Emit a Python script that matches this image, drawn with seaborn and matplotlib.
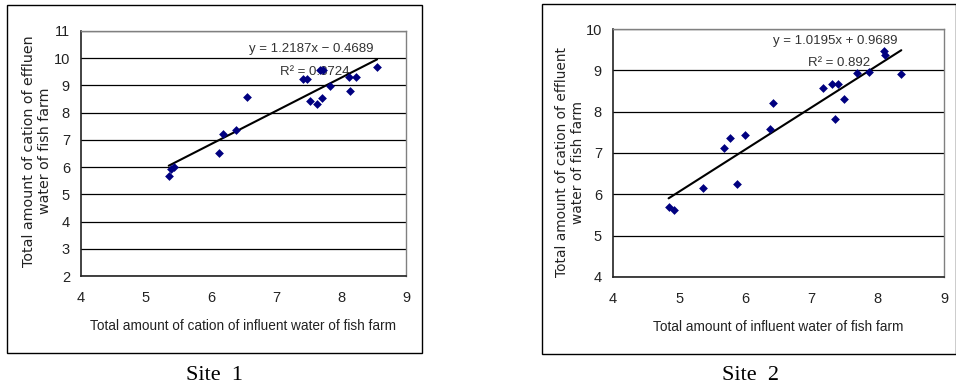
import numpy as np
import pandas as pd
import matplotlib
matplotlib.use("Agg")
import matplotlib.pyplot as plt
from matplotlib.patches import Rectangle
import seaborn as sns

# ---------------- data ----------------
site1_x = [5.35, 5.385, 5.43, 6.12, 6.18, 6.39, 6.555, 7.415, 7.48, 7.53, 7.63,
           7.68, 7.72, 7.71, 7.83, 8.12, 8.135, 8.23, 8.555]
site1_y = [5.68, 5.94, 5.99, 6.52, 7.21, 7.37, 8.59, 9.23, 9.23, 8.43, 8.33,
           9.58, 9.58, 8.54, 8.97, 9.31, 8.80, 9.31, 9.67]
site1_slope, site1_intercept, site1_r2 = 1.2187, -0.4689, "0.8724"

site2_x = [4.84, 4.92, 5.36, 5.67, 5.76, 5.87, 6.0, 6.37, 6.415, 7.175, 7.305,
           7.40, 7.355, 7.485, 7.69, 7.86, 8.095, 8.11, 8.355]
site2_y = [5.69, 5.63, 6.15, 7.13, 7.36, 6.26, 7.43, 7.59, 8.20, 8.57, 8.66,
           8.66, 7.82, 8.31, 8.93, 8.96, 9.46, 9.37, 8.92]
site2_slope, site2_intercept, site2_r2 = 1.0195, 0.9689, "0.892"

site1_xticks = [4, 5, 6, 7, 8, 9]
site1_yticks = [2, 3, 4, 5, 6, 7, 8, 9, 10, 11]
site2_xticks = [4, 5, 6, 7, 8, 9]
site2_yticks = [4, 5, 6, 7, 8, 9, 10]

site1_xlabel = "Total amount of cation of influent water of fish farm"
site1_ylabel = "Total amount of cation of effluen\nwater of fish farm"
site2_xlabel = "Total amount of influent water of fish farm"
site2_ylabel = "Total amount of cation of effluent\nwater of fish farm"
site1_eq = "y = 1.2187x \u2212 0.4689"
site2_eq = "y = 1.0195x + 0.9689"
captions = ["Site  1", "Site  2"]

# ---------------- style ----------------
sns.set_style("white")
NARROW = ["Liberation Sans Narrow", "Liberation Sans", "DejaVu Sans"]
plt.rcParams["font.family"] = NARROW

W, H = 956, 389
fig = plt.figure(figsize=(W / 100, H / 100), dpi=100)
fig.patch.set_facecolor("white")


def px_axes(x0, x1, ytop, ybot):
    return fig.add_axes([x0 / W, (H - ybot) / H, (x1 - x0) / W, (ybot - ytop) / H])


def frame(x0, x1, ytop, ybot):
    fig.patches.append(Rectangle((x0 / W, (H - ybot) / H), (x1 - x0) / W, (ybot - ytop) / H,
                                 transform=fig.transFigure, fill=False,
                                 edgecolor="black", linewidth=1.0))


def panel(ax, xs, ys, slope, intercept, xticks, yticks, xlabel, eq, r2, eqpos, r2pos):
    df = pd.DataFrame({"x": xs, "y": ys})
    ax.set_axisbelow(True)
    ax.set_xlim(xticks[0], xticks[-1])
    ax.set_ylim(yticks[0], yticks[-1])
    ax.set_xticks(xticks)
    ax.set_yticks(yticks)
    ax.yaxis.grid(True, color="black", linewidth=0.9)
    ax.xaxis.grid(False)
    xx = np.array([min(xs), max(xs)])
    ax.plot(xx, slope * xx + intercept, color="black", linewidth=1.5, zorder=3)
    sns.scatterplot(data=df, x="x", y="y", ax=ax, marker="D", s=20,
                    color="#000080", linewidth=0, zorder=4)
    for side in ["left", "bottom"]:
        ax.spines[side].set_color("#222222")
        ax.spines[side].set_linewidth(1.2)
    for side in ["top", "right"]:
        ax.spines[side].set_color("#808080")
        ax.spines[side].set_linewidth(1.0)
    ax.tick_params(axis="x", direction="in", length=5, width=1, color="#222222",
                   pad=11, labelsize=10.5, labelcolor="#222222")
    ax.tick_params(axis="y", direction="out", length=3, width=1, color="#222222",
                   pad=5, labelsize=10.5, labelcolor="#222222")
    ax.set_xlabel(xlabel, fontsize=9.8, color="#222222")
    ax.xaxis.set_label_coords(0.5, -0.175)
    ax.set_ylabel("")
    ax.text(eqpos[0], eqpos[1], eq, transform=ax.transData, fontsize=9.5,
            color="#333333", ha="center", va="center", zorder=2)
    ax.text(r2pos[0], r2pos[1], "R\u00b2 = " + r2, transform=ax.transData, fontsize=9.5,
            color="#333333", ha="left", va="center", zorder=2)


# left panel
frame(7, 422, 5, 353)
ax1 = px_axes(81, 406, 31, 276)
panel(ax1, site1_x, site1_y, site1_slope, site1_intercept, site1_xticks, site1_yticks,
      site1_xlabel, site1_eq, site1_r2, (7.55, 10.33), (7.06, 9.5))
fig.text(37 / W, 1 - 151 / H, site1_ylabel, rotation=90, ha="center", va="center",
         multialignment="center", fontsize=10.3, color="#222222", family="DejaVu Sans",
         linespacing=1.15)
fig.text(214 / W, 1 - 375 / H, captions[0], ha="center", va="center",
         fontsize=16, family="Liberation Serif", color="black")

# right panel
frame(542, 955.5, 4, 354)
ax2 = px_axes(613, 944, 29, 277)
panel(ax2, site2_x, site2_y, site2_slope, site2_intercept, site2_xticks, site2_yticks,
      site2_xlabel, site2_eq, site2_r2, (7.35, 9.72), (6.95, 9.18))
fig.text(570 / W, 1 - 162 / H, site2_ylabel, rotation=90, ha="center", va="center",
         multialignment="center", fontsize=9.9, color="#222222", family="DejaVu Sans",
         linespacing=1.15)
fig.text(751 / W, 1 - 375 / H, captions[1], ha="center", va="center",
         fontsize=16, family="Liberation Serif", color="black")

fig.savefig("out.png", dpi=100, facecolor="white")
